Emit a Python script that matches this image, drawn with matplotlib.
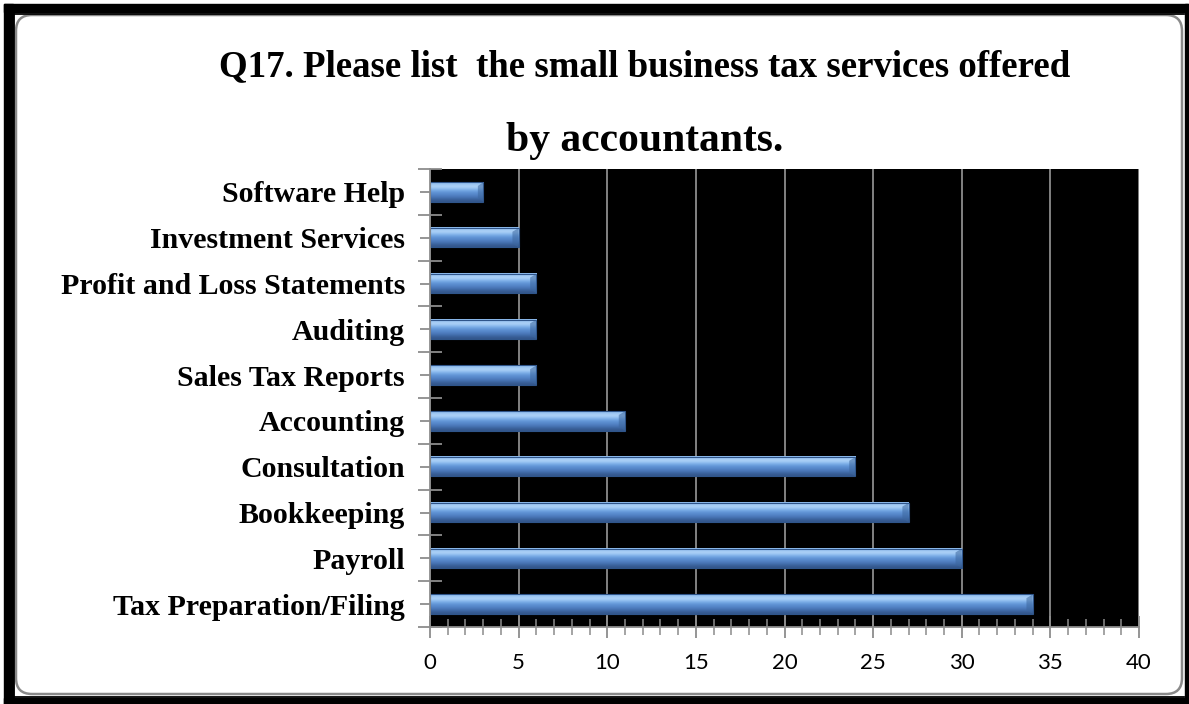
"""
Q17 bar chart: small business tax services offered by accountants.
"""

import matplotlib
matplotlib.use("Agg")
import matplotlib.pyplot as plt
import matplotlib.patches as mpatches
import matplotlib.ticker as mticker
import numpy as np

# ── Data (bottom → top) ──────────────────────────────────────────────────────
SERVICES = [
    "Tax Preparation/Filing",
    "Payroll",
    "Bookkeeping",
    "Consultation",
    "Accounting",
    "Sales Tax Reports",
    "Auditing",
    "Profit and Loss Statements",
    "Investment Services",
    "Software Help",
]
COUNTS = [34, 30, 27, 24, 11, 6, 6, 6, 5, 3]
X_TICKS = [0, 5, 10, 15, 20, 25, 30, 35, 40]

TITLE_1 = "Q17. Please list  the small business tax services offered"
TITLE_2 = "by accountants."

W, H = 1189, 704
SERIF = ["Liberation Serif", "DejaVu Serif"]
AXIS_GRAY = "#8c8c8c"

fig = plt.figure(figsize=(W / 100, H / 100), dpi=100)
fig.patch.set_facecolor("white")

# ── Frame: pixel-coordinate overlay axes ─────────────────────────────────────
frame = fig.add_axes([0, 0, 1, 1], zorder=0)
frame.set_xlim(0, W)
frame.set_ylim(H, 0)
frame.axis("off")

# thick black bands (left, top, bottom) and thin right line
frame.add_patch(mpatches.Rectangle((4, 4), 9, H - 4, color="black"))
frame.add_patch(mpatches.Rectangle((4, 4), W - 4, 8, color="black"))
frame.add_patch(mpatches.Rectangle((4, 698), W - 4, 6, color="black"))
frame.add_patch(mpatches.Rectangle((1184.5, 4), 3, H - 4, color="black"))
# thin inner line
frame.plot([14, 14], [13, 697], color="black", lw=1.3)
frame.plot([14, 1184], [13.5, 13.5], color="black", lw=1.3)
frame.plot([14, 1184], [696.5, 696.5], color="black", lw=1.3)
# rounded gray chart border
frame.add_patch(mpatches.FancyBboxPatch(
    (16, 15), 1166, 679,
    boxstyle="round,pad=0,rounding_size=16",
    facecolor="white", edgecolor="#8a8a8a", lw=1.8))

frame.text(645, 76, TITLE_1, ha="center", va="baseline", fontsize=26.6,
           fontweight="bold", family=SERIF)
frame.text(645, 151, TITLE_2, ha="center", va="baseline", fontsize=30,
           fontweight="bold", family=SERIF)

# ── Plot area ────────────────────────────────────────────────────────────────
left, right, top, bottom = 430, 1139, 169, 627
ax = fig.add_axes([left / W, 1 - bottom / H, (right - left) / W, (bottom - top) / H],
                  zorder=1)
ax.set_facecolor("black")

y = np.arange(len(SERVICES))
bar_h = 0.42

# vertical shading of each bar, listed bottom edge → top edge:
# dark lower rim, mid blue body, bright strip near the top
shade = np.array([
    [0.20, 0.34, 0.55],
    [0.27, 0.44, 0.69],
    [0.33, 0.52, 0.78],
    [0.38, 0.58, 0.84],
    [0.52, 0.72, 0.93],
    [0.72, 0.85, 0.98],
    [0.55, 0.73, 0.93],
])
grad = shade[:, None, :]

for yi, v in zip(y, COUNTS):
    ax.imshow(grad, extent=(0, v, yi - bar_h / 2, yi + bar_h / 2), origin="lower",
              aspect="auto", interpolation="bicubic", zorder=3)
    ax.add_patch(mpatches.Rectangle((0, yi - bar_h / 2), v, bar_h,
                                    fill=False, edgecolor="#2f558a", lw=0.8,
                                    zorder=4))
    # bevelled end cap
    cap = min(0.35, v * 0.1)
    ax.add_patch(mpatches.Polygon(
        [(v - cap, yi + bar_h / 2 - 0.08), (v, yi + bar_h / 2),
         (v, yi - bar_h / 2), (v - cap, yi - bar_h / 2 + 0.08)],
        closed=True, facecolor="#3c679e", edgecolor="none", alpha=0.55,
        zorder=4))

ax.set_xlim(0, 40)
ax.set_ylim(-0.5, len(SERVICES) - 0.5)

ax.xaxis.set_major_locator(mticker.FixedLocator(X_TICKS))
ax.xaxis.set_minor_locator(mticker.MultipleLocator(1))
ax.grid(axis="x", which="major", color=AXIS_GRAY, lw=1.3, zorder=1)
ax.set_axisbelow(True)

ax.set_yticks(y)
ax.set_yticklabels(SERVICES)
ax.yaxis.set_minor_locator(mticker.FixedLocator(np.arange(-0.5, len(SERVICES), 1)))

ax.tick_params(axis="x", which="major", direction="inout", length=16, width=1.3,
               color=AXIS_GRAY, pad=11, labelsize=16, labelcolor="black")
ax.tick_params(axis="x", which="minor", direction="inout", length=12, width=1.1,
               color=AXIS_GRAY)
ax.tick_params(axis="y", which="major", direction="inout", length=14, width=1.3,
               color=AXIS_GRAY, pad=11, labelsize=21.5)
ax.tick_params(axis="y", which="minor", direction="inout", length=17, width=1.3,
               color=AXIS_GRAY)

for lab in ax.get_xticklabels():
    lab.set_family(["Lato", "DejaVu Sans"])
for lab in ax.get_yticklabels():
    lab.set_family(SERIF)
    lab.set_fontweight("bold")

for side in ("top", "right"):
    ax.spines[side].set_visible(False)
for side in ("left", "bottom"):
    ax.spines[side].set_color(AXIS_GRAY)
    ax.spines[side].set_linewidth(1.3)
    ax.spines[side].set_zorder(5)

fig.savefig("out.png", dpi=100, facecolor="white")
plt.close(fig)
print("Saved out.png")
